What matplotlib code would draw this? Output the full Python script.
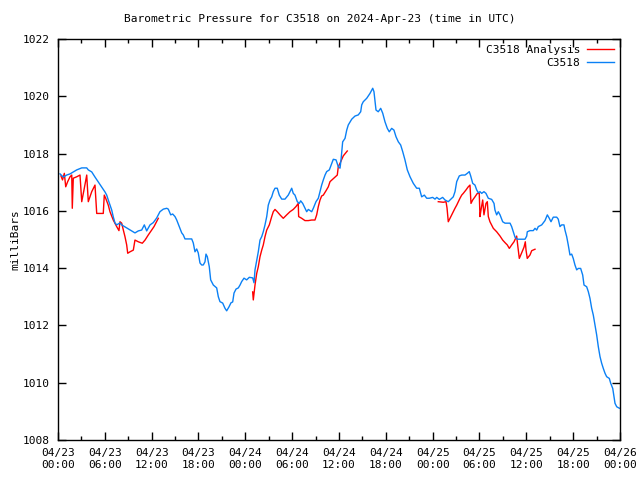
import matplotlib
matplotlib.use("Agg")
import matplotlib.pyplot as plt
import matplotlib.dates as mdates
import pandas as pd

plt.rcParams["font.family"] = "DejaVu Sans Mono"
plt.rcParams["font.size"] = 8

# ── Data: hours since 2024-04-23 00:00 UTC and pressure (mb) ──────────────
start = pd.Timestamp("2024-04-23 00:00")

obs_hours = [
    0.26, 0.68, 1.11, 1.54, 2.40, 3.04, 3.68, 3.88, 4.32, 4.74, 5.16, 5.60,
    6.02, 6.24, 6.44, 6.88, 7.08, 7.30, 7.52, 7.94, 8.16, 8.58, 9.22, 9.86,
    10.29, 10.72, 11.06, 11.36, 11.79, 12.21, 12.64, 13.06, 13.49, 13.93,
    14.13, 14.44, 14.69, 14.99, 15.21, 15.54, 15.85, 16.05, 16.27, 17.13,
    17.33, 17.55, 17.77, 17.97, 18.19, 18.41, 18.61, 18.83, 18.96, 19.13,
    19.38, 19.56, 19.90, 20.33, 20.54, 20.75, 21.10, 21.39, 21.61, 21.91,
    22.16, 22.38, 22.55, 22.81, 23.10, 23.32, 23.53, 23.83, 24.17, 24.51,
    24.94, 25.11, 25.24, 25.46, 25.66, 25.88, 26.10, 26.30, 26.52, 26.74,
    26.94, 27.16, 27.38, 27.58, 27.80, 28.09, 28.35, 28.66, 29.08, 29.50,
    29.72, 29.94, 30.14, 30.36, 30.66, 30.91, 31.09, 31.35, 31.64, 31.86,
    32.07, 32.28, 32.50, 32.71, 33.05, 33.35, 33.57, 33.78, 33.99, 34.21,
    34.42, 34.76, 35.27, 35.62, 35.91, 36.13, 36.26, 36.47, 36.77, 36.99,
    37.19, 37.63, 38.05, 38.47, 38.78, 38.91, 39.11, 39.55, 39.97, 40.32,
    40.48, 40.74, 41.03, 41.34, 41.60, 41.89, 42.19, 42.44, 42.75, 43.04,
    43.30, 43.60, 43.90, 44.16, 44.45, 44.75, 45.10, 45.52, 45.95, 46.29,
    46.59, 46.93, 47.24, 47.57, 48.00, 48.30, 48.52, 48.85, 49.28, 49.58,
    50.00, 50.31, 50.64, 50.86, 51.08, 51.41, 51.72, 52.14, 52.44, 52.69,
    52.87, 53.13, 53.42, 53.64, 53.85, 54.06, 54.28, 54.57, 54.83, 55.13,
    55.56, 55.86, 55.98, 56.20, 56.41, 56.63, 56.97, 57.27, 57.91, 58.12,
    58.33, 58.55, 58.84, 59.41, 59.83, 60.05, 60.12, 60.47, 60.89, 61.11,
    61.33, 61.53, 61.97, 62.39, 62.69, 62.94, 63.16, 63.45, 63.89, 64.09,
    64.31, 64.53, 64.82, 64.95, 65.17, 65.37, 65.59, 65.81, 66.01, 66.23,
    66.45, 66.66, 66.96, 67.22, 67.39, 67.73, 67.94, 68.15, 68.37, 68.58,
    68.80, 69.01, 69.22, 69.44, 69.65, 69.86, 70.08, 70.29, 70.63, 70.81,
    71.07, 71.23, 71.36, 71.58, 71.91,
]
obs_mb = [
    1017.29, 1017.18, 1017.25, 1017.29, 1017.43, 1017.50, 1017.50, 1017.43,
    1017.36, 1017.18, 1017.01, 1016.83, 1016.66, 1016.55, 1016.38, 1016.03,
    1015.79, 1015.58, 1015.51, 1015.58, 1015.51, 1015.44, 1015.33, 1015.23,
    1015.30, 1015.33, 1015.51, 1015.30, 1015.51, 1015.59, 1015.75, 1015.97,
    1016.06, 1016.09, 1016.06, 1015.86, 1015.89, 1015.80, 1015.68, 1015.45,
    1015.23, 1015.16, 1015.02, 1015.02, 1014.88, 1014.57, 1014.67, 1014.53,
    1014.18, 1014.11, 1014.11, 1014.22, 1014.49, 1014.40, 1014.05, 1013.59,
    1013.41, 1013.31, 1013.00, 1012.83, 1012.78, 1012.60, 1012.51, 1012.65,
    1012.79, 1012.82, 1013.13, 1013.27, 1013.31, 1013.41, 1013.53, 1013.65,
    1013.59, 1013.68, 1013.66, 1013.49, 1013.94, 1014.28, 1014.57, 1014.98,
    1015.10, 1015.27, 1015.51, 1015.80, 1016.20, 1016.38, 1016.49, 1016.67,
    1016.79, 1016.79, 1016.55, 1016.41, 1016.41, 1016.55, 1016.67, 1016.79,
    1016.61, 1016.55, 1016.32, 1016.26, 1016.35, 1016.26, 1016.09, 1015.97,
    1016.05, 1016.01, 1015.97, 1016.09, 1016.32, 1016.44, 1016.67, 1016.90,
    1017.08, 1017.25, 1017.37, 1017.43, 1017.80, 1017.78, 1017.54, 1017.49,
    1017.78, 1018.41, 1018.53, 1018.82, 1019.00, 1019.20, 1019.31, 1019.35,
    1019.46, 1019.70, 1019.81, 1019.93, 1020.10, 1020.28, 1020.16, 1019.52,
    1019.46, 1019.58, 1019.41, 1019.11, 1018.88, 1018.76, 1018.88, 1018.82,
    1018.59, 1018.41, 1018.30, 1018.07, 1017.78, 1017.43, 1017.19, 1016.96,
    1016.79, 1016.79, 1016.49, 1016.55, 1016.44, 1016.44, 1016.47, 1016.41,
    1016.47, 1016.40, 1016.47, 1016.38, 1016.32, 1016.40, 1016.49, 1016.67,
    1017.02, 1017.22, 1017.25, 1017.25, 1017.31, 1017.37, 1017.22, 1016.96,
    1016.90, 1016.73, 1016.63, 1016.67, 1016.61, 1016.67, 1016.61, 1016.44,
    1016.40, 1016.26, 1016.03, 1015.86, 1015.97, 1015.86, 1015.62, 1015.57,
    1015.57, 1015.45, 1015.27, 1015.08, 1015.01, 1015.01, 1015.01, 1015.12,
    1015.27, 1015.31, 1015.31, 1015.39, 1015.33, 1015.45, 1015.51, 1015.66,
    1015.86, 1015.74, 1015.62, 1015.78, 1015.78, 1015.71, 1015.45, 1015.51,
    1015.51, 1015.33, 1015.10, 1014.81, 1014.46, 1014.49, 1014.34, 1014.11,
    1013.94, 1013.99, 1013.99, 1013.76, 1013.41, 1013.35, 1013.18, 1012.95,
    1012.60, 1012.36, 1012.01, 1011.67, 1011.26, 1010.91, 1010.68, 1010.50,
    1010.33, 1010.21, 1010.15, 1009.98, 1009.80, 1009.51, 1009.28, 1009.16,
    1009.11,
]

# analysis runs (three separate segments)
ana1_hours = [
    0.38, 0.58, 0.81, 0.99, 1.24, 1.54, 1.76, 1.83, 1.96, 2.40, 2.82, 3.04,
    3.37, 3.68, 3.88, 4.32, 4.74, 4.96, 5.80, 5.93, 6.11, 6.44, 6.66, 7.08,
    7.52, 7.81, 7.94, 8.16, 8.37, 8.58, 8.80, 8.93, 9.22, 9.65, 9.86, 10.29,
    10.80, 11.15, 11.57, 12.00, 12.30, 12.85,
]
ana1_mb = [
    1017.22, 1017.08, 1017.31, 1016.84, 1017.02, 1017.19, 1017.25, 1016.09,
    1017.14, 1017.19, 1017.25, 1016.32, 1016.79, 1017.25, 1016.32, 1016.67,
    1016.90, 1015.91, 1015.91, 1016.55, 1016.44, 1016.20, 1015.97, 1015.68,
    1015.45, 1015.31, 1015.62, 1015.57, 1015.33, 1015.10, 1014.81, 1014.52,
    1014.57, 1014.63, 1014.98, 1014.92, 1014.87, 1014.98, 1015.16, 1015.33,
    1015.45, 1015.74,
]
ana2_hours = [
    24.94, 25.02, 25.24, 25.46, 25.66, 25.88, 26.10, 26.30, 26.52, 26.74,
    27.07, 27.38, 27.58, 27.80, 28.09, 28.44, 28.86, 29.30, 29.72, 30.14,
    30.49, 30.78, 30.83, 31.22, 31.64, 32.07, 32.50, 32.92, 33.14, 33.35,
    33.57, 33.78, 33.99, 34.33, 34.63, 34.85, 35.78, 35.91, 36.13, 36.55,
    37.06,
]
ana2_mb = [
    1013.17, 1012.89, 1013.41, 1013.82, 1014.05, 1014.40, 1014.63, 1014.81,
    1015.10, 1015.33, 1015.51, 1015.80, 1015.97, 1016.05, 1015.97, 1015.86,
    1015.74, 1015.86, 1015.97, 1016.05, 1016.15, 1016.26, 1015.80, 1015.74,
    1015.66, 1015.66, 1015.68, 1015.68, 1015.86, 1016.15, 1016.38, 1016.52,
    1016.55, 1016.70, 1016.84, 1017.02, 1017.25, 1017.54, 1017.66, 1017.92,
    1018.09,
]
ana3_hours = [
    48.72, 49.36, 49.71, 49.84, 50.00, 50.22, 50.44, 50.64, 50.86, 51.08,
    51.29, 51.50, 51.72, 51.92, 52.27, 52.56, 52.78, 52.91, 53.13, 53.42,
    53.72, 53.97, 54.06, 54.19, 54.41, 54.57, 54.83, 55.00, 55.13, 55.34,
    55.77, 56.20, 56.63, 56.97, 57.27, 57.56, 57.82, 58.12, 58.42, 58.76,
    58.89, 59.10, 59.41, 59.70, 59.87, 59.96, 60.12, 60.47, 60.69, 61.11,
]
ana3_mb = [
    1016.32, 1016.30, 1016.32, 1016.10, 1015.62, 1015.74, 1015.86, 1015.97,
    1016.09, 1016.20, 1016.32, 1016.44, 1016.55, 1016.61, 1016.73, 1016.84,
    1016.90, 1016.26, 1016.38, 1016.49, 1016.61, 1016.61, 1015.80, 1016.03,
    1016.38, 1015.86, 1016.26, 1016.32, 1015.80, 1015.62, 1015.39, 1015.27,
    1015.12, 1014.98, 1014.89, 1014.81, 1014.69, 1014.81, 1014.92, 1015.12,
    1014.81, 1014.34, 1014.54, 1014.73, 1014.92, 1014.63, 1014.34, 1014.46,
    1014.61, 1014.66,
]


def to_time(hours):
    return start + pd.to_timedelta(hours, unit="h")


RED = "#ff0000"
BLUE = "#0a80f5"

fig = plt.figure(figsize=(6.4, 4.8), dpi=100)
ax = fig.add_axes([58 / 640, 40 / 480, 562 / 640, 401 / 480])

ax.plot(to_time(ana1_hours), ana1_mb, color=RED, lw=1.0, label="C3518 Analysis")
ax.plot(to_time(ana2_hours), ana2_mb, color=RED, lw=1.0)
ax.plot(to_time(ana3_hours), ana3_mb, color=RED, lw=1.0)
ax.plot(to_time(obs_hours), obs_mb, color=BLUE, lw=1.0, label="C3518")

ax.set_xlim(start, start + pd.Timedelta(hours=72))
ax.set_ylim(1008, 1022)
ax.set_yticks(range(1008, 1023, 2))

ax.xaxis.set_major_locator(mdates.HourLocator(byhour=[0, 6, 12, 18]))
ax.xaxis.set_minor_locator(mdates.HourLocator(byhour=range(0, 24, 3)))
ax.xaxis.set_major_formatter(mdates.DateFormatter("%m/%d\n%H:%M"))

ax.tick_params(which="both", direction="in", top=True, right=True,
               width=1.0, labelsize=8, pad=6)
ax.tick_params(which="major", length=6)
ax.tick_params(which="minor", length=3)
for s in ax.spines.values():
    s.set_linewidth(1.0)

ax.set_ylabel("milliBars", fontsize=8, labelpad=1.5)
fig.text(0.5, 1 - 19 / 480, "Barometric Pressure for C3518 on 2024-Apr-23 (time in UTC)",
         ha="center", va="center", fontsize=8)

ax.legend(loc="upper right", frameon=False, markerfirst=False, fontsize=8,
          handlelength=2.5, handletextpad=0.6, labelspacing=0.3,
          borderaxespad=0.2, borderpad=0.3)

fig.savefig("out.png", dpi=100)
